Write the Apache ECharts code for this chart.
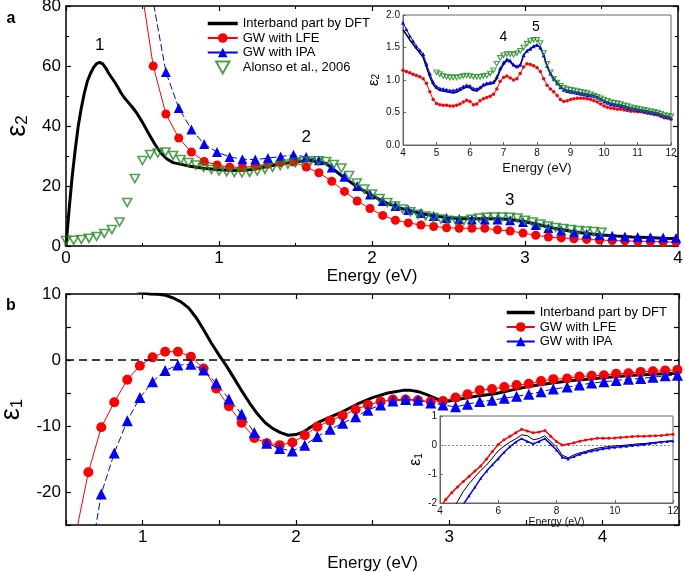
<!DOCTYPE html>
<html><head><meta charset="utf-8">
<script src="https://cdn.jsdelivr.net/npm/echarts@6/dist/echarts.min.js"></script>
<style>html,body{margin:0;padding:0;background:#fff}#c{width:685px;height:572px}</style>
</head><body><div id="c"></div>
<script>
// ---------------- DATA ----------------
// Panel a: epsilon_2 (0-4 eV)
const dftA_E = [0,0.02,0.04,0.06,0.08,0.10,0.12,0.14,0.16,0.18,0.20,0.22,0.24,0.26,0.28,0.30,0.32,0.34,0.36,0.38,0.40,0.43,0.46,0.50,0.54,0.58,0.62,0.66,0.70,0.80,0.90,1.00,1.10,1.20,1.30,1.40,1.50,1.60,1.70,1.80,1.90,2.00,2.10,2.20,2.30,2.40,2.50,2.60,2.70,2.80,2.90,3.00,3.10,3.20,3.30,3.40,3.50,3.60,3.70,3.80,3.90,4.00];
const dftA = [0,12,23,32,40,46,51,55,57.5,59.5,60.8,61.2,60.7,59.3,57.5,56,54.5,52.8,51,49.5,48.3,46.5,44.5,41.2,37.5,34,31,29,27.8,26.7,25.9,25.4,25.2,25.4,26.3,27.3,28.1,28.5,27.5,23.5,19.8,16.8,14.2,12.4,11.1,10.1,9.4,9.1,9.1,9.1,8.9,8.1,7.0,5.8,4.9,4.2,3.7,3.3,3.0,2.8,2.6,2.5];
// first point of each GW curve: where the line enters from above (no marker)
const lfeA_E = [0.49,0.570,0.653,0.737,0.820,0.903,0.987,1.070,1.153,1.237,1.320,1.403,1.487,1.570,1.653,1.737,1.820,1.903,1.987,2.070,2.153,2.237,2.320,2.403,2.487,2.570,2.653,2.737,2.820,2.903,2.987,3.070,3.153,3.237,3.320,3.403,3.487,3.570,3.653,3.737,3.820,3.903,3.987];
const lfeA = [87,60,44,36,31.3,28.2,27,26.3,26.2,26.6,27.3,27.8,28,26.3,24.4,21.6,18.2,15,12.5,10.2,8.6,7.7,7.0,6.5,6.1,5.9,5.9,5.9,5.4,5.0,4.3,3.6,3.0,2.7,2.4,2.2,2.0,1.8,1.7,1.6,1.5,1.4,1.3];
const ipaA_E = [0.55,0.653,0.737,0.820,0.903,0.987,1.070,1.153,1.237,1.320,1.403,1.487,1.570,1.653,1.737,1.820,1.903,1.987,2.070,2.153,2.237,2.320,2.403,2.487,2.570,2.653,2.737,2.820,2.903,2.987,3.070,3.153,3.237,3.320,3.403,3.487,3.570,3.653,3.737,3.820,3.903,3.987];
const ipaA = [87,58,46,38.8,34,31.3,29.7,28.9,28.8,29.3,29.8,30.4,29.7,28.6,26.2,23.1,20.0,17.2,15.0,13.3,12.0,11.0,10.0,9.3,9.0,8.8,8.8,8.8,8.6,8.0,7.0,6.0,5.2,4.6,4.1,3.7,3.4,3.2,3.0,2.9,2.8,2.7];
const alonso_E = [0.00,0.05,0.10,0.15,0.20,0.25,0.30,0.35,0.40,0.45,0.50,0.55,0.60,0.65,0.70,0.75,0.80,0.85,0.90,0.95,1.00,1.05,1.10,1.15,1.20,1.25,1.30,1.35,1.40,1.45,1.50,1.55,1.60,1.65,1.70,1.75,1.80,1.85,1.90,1.95,2.00,2.05,2.10,2.15,2.20,2.25,2.30,2.35,2.40,2.45,2.50,2.55,2.60,2.65,2.70,2.75,2.80,2.85,2.90,2.95,3.00,3.05,3.10,3.15,3.20,3.25,3.30,3.35,3.40,3.45,3.50];
const alonso = [1.8,1.9,2.2,2.6,3.2,4.2,5.5,8.0,14.5,22.5,28.5,30.5,31.0,31.3,30.2,28.8,27.8,27.0,26.2,25.5,25.0,24.7,24.5,24.4,24.6,25.0,25.6,26.2,26.8,27.3,27.8,28.2,28.4,28.4,28.2,27.2,26.0,23.5,21.0,19.0,17.3,15.8,14.5,13.3,12.3,11.4,10.6,10.0,9.5,9.0,8.6,8.3,8.4,8.9,9.3,9.6,9.7,9.7,9.6,9.3,8.6,8.0,7.3,6.7,6.2,5.8,5.5,5.2,5.0,4.8,4.6];

// Panel a inset: epsilon_2 (4-12 eV)
const inA_E = [4.0,4.1,4.2,4.3,4.4,4.5,4.6,4.7,4.8,4.9,5.0,5.1,5.2,5.3,5.4,5.5,5.6,5.7,5.8,5.9,6.0,6.1,6.2,6.3,6.4,6.5,6.6,6.7,6.8,6.9,7.0,7.1,7.2,7.3,7.4,7.5,7.6,7.7,7.8,7.9,8.0,8.1,8.2,8.3,8.4,8.5,8.6,8.7,8.8,8.9,9.0,9.1,9.2,9.3,9.4,9.5,9.6,9.7,9.8,9.9,10.0,10.1,10.2,10.3,10.4,10.5,10.6,10.7,10.8,10.9,11.0,11.1,11.2,11.3,11.4,11.5,11.6,11.7,11.8,11.9,12.0];
const inA_dft = [1.77,1.70,1.62,1.55,1.48,1.42,1.35,1.20,1.05,0.93,0.87,0.84,0.83,0.82,0.81,0.80,0.81,0.84,0.87,0.89,0.88,0.84,0.83,0.87,0.91,0.93,0.94,0.95,1.02,1.15,1.24,1.30,1.28,1.22,1.19,1.22,1.38,1.45,1.48,1.52,1.54,1.50,1.38,1.22,1.10,1.02,0.96,0.90,0.86,0.84,0.83,0.82,0.81,0.80,0.79,0.78,0.77,0.76,0.74,0.71,0.68,0.66,0.64,0.63,0.62,0.61,0.60,0.58,0.57,0.56,0.55,0.54,0.53,0.52,0.51,0.50,0.49,0.47,0.45,0.44,0.42];
const inA_ipa = [1.88,1.78,1.68,1.60,1.52,1.46,1.40,1.25,1.10,0.97,0.90,0.87,0.86,0.85,0.84,0.84,0.85,0.87,0.90,0.92,0.91,0.87,0.86,0.89,0.93,0.95,0.96,0.97,1.05,1.18,1.27,1.32,1.30,1.24,1.21,1.24,1.38,1.45,1.48,1.52,1.54,1.50,1.38,1.22,1.10,1.02,0.95,0.89,0.85,0.83,0.82,0.81,0.80,0.79,0.78,0.77,0.76,0.75,0.73,0.70,0.67,0.65,0.63,0.62,0.61,0.60,0.59,0.57,0.56,0.55,0.54,0.53,0.52,0.51,0.50,0.49,0.48,0.46,0.44,0.43,0.41];
const inA_lfe = [1.15,1.13,1.11,1.09,1.07,1.05,1.02,0.95,0.82,0.70,0.64,0.62,0.61,0.61,0.60,0.60,0.61,0.63,0.66,0.69,0.67,0.62,0.63,0.68,0.71,0.73,0.75,0.78,0.86,0.98,1.04,1.06,1.03,1.00,1.02,1.10,1.20,1.25,1.24,1.22,1.19,1.13,1.02,0.92,0.86,0.82,0.76,0.70,0.67,0.68,0.70,0.71,0.72,0.72,0.72,0.71,0.70,0.68,0.66,0.63,0.60,0.58,0.57,0.56,0.55,0.55,0.54,0.53,0.52,0.52,0.51,0.51,0.50,0.49,0.48,0.47,0.46,0.44,0.42,0.41,0.40];
const inA_alonso_E = [5.0,5.1,5.2,5.3,5.4,5.5,5.6,5.7,5.8,5.9,6.0,6.1,6.2,6.3,6.4,6.5,6.6,6.7,6.8,6.9,7.0,7.1,7.2,7.3,7.4,7.5,7.6,7.7,7.8,7.9,8.0,8.1,8.2,8.3,8.4,8.5,8.6,8.7,8.8,8.9,9.0,9.1,9.2,9.3,9.4,9.5,9.6,9.7,9.8,9.9,10.0,10.1,10.2,10.3,10.4,10.5,10.6,10.7,10.8,10.9,11.0,11.1,11.2,11.3,11.4,11.5,11.6,11.7,11.8,11.9,12.0];
const inA_alonso = [1.12,1.09,1.06,1.05,1.04,1.04,1.04,1.05,1.06,1.07,1.06,1.05,1.05,1.05,1.06,1.07,1.10,1.15,1.25,1.34,1.38,1.40,1.40,1.39,1.41,1.45,1.50,1.56,1.60,1.62,1.62,1.57,1.42,1.25,1.12,1.02,0.96,0.91,0.88,0.86,0.85,0.84,0.83,0.82,0.81,0.80,0.78,0.76,0.74,0.72,0.70,0.68,0.66,0.65,0.64,0.63,0.61,0.60,0.58,0.57,0.56,0.55,0.54,0.53,0.52,0.51,0.50,0.48,0.46,0.45,0.44];

// Panel b: epsilon_1 (0.5-4.5 eV)
const dftB_E = [0.95,1.00,1.05,1.10,1.15,1.20,1.25,1.30,1.35,1.40,1.45,1.50,1.55,1.60,1.65,1.70,1.75,1.80,1.85,1.90,1.95,2.00,2.05,2.10,2.15,2.20,2.30,2.40,2.50,2.60,2.70,2.75,2.80,2.85,2.90,2.95,3.00,3.10,3.20,3.30,3.40,3.50,3.60,3.70,3.80,3.90,4.00,4.10,4.20,4.30,4.40,4.50];
const dftB = [10.6,10.15,10.0,9.95,9.8,9.4,8.8,7.9,6.4,4.5,2.5,0.7,-1.0,-2.9,-4.8,-6.6,-8.2,-9.5,-10.4,-11.0,-11.4,-11.3,-10.9,-10.1,-9.4,-8.9,-7.9,-6.7,-5.7,-5.0,-4.6,-4.6,-4.8,-5.2,-5.7,-6.2,-6.2,-5.8,-5.4,-5.1,-4.6,-4.1,-3.7,-3.4,-3.1,-2.9,-2.7,-2.5,-2.3,-2.2,-2.1,-2.0];
const lfeB_E = [0.55,0.646,0.730,0.815,0.900,0.982,1.065,1.147,1.230,1.315,1.398,1.480,1.563,1.646,1.729,1.810,1.894,1.977,2.058,2.140,2.223,2.305,2.390,2.470,2.553,2.633,2.716,2.797,2.880,2.960,3.042,3.120,3.200,3.280,3.360,3.440,3.520,3.600,3.680,3.770,3.850,3.930,4.010,4.090,4.170,4.250,4.330,4.410,4.490];
const lfeB = [-28,-17.0,-10.2,-6.4,-3.0,-0.86,0.4,1.26,1.26,0.5,-1.3,-4.3,-7.0,-9.5,-11.8,-12.6,-12.9,-12.5,-11.4,-10.1,-9.2,-8.4,-7.5,-6.8,-6.3,-6.0,-6.0,-6.1,-6.3,-6.2,-5.7,-5.2,-4.6,-4.4,-4.1,-3.8,-3.6,-3.2,-2.9,-2.8,-2.5,-2.4,-2.3,-2.1,-2.0,-1.8,-1.7,-1.6,-1.5];
const ipaB_E = [0.68,0.730,0.815,0.900,0.982,1.065,1.147,1.230,1.315,1.398,1.480,1.563,1.646,1.729,1.810,1.894,1.977,2.058,2.140,2.223,2.305,2.390,2.470,2.553,2.633,2.716,2.797,2.880,2.960,3.042,3.120,3.200,3.280,3.360,3.440,3.520,3.600,3.680,3.770,3.850,3.930,4.010,4.090,4.170,4.250,4.330,4.410,4.490];
const ipaB = [-27.2,-20.3,-14.1,-9.2,-5.7,-3.3,-1.6,-0.76,-0.66,-1.5,-3.5,-5.9,-8.2,-11.0,-12.6,-13.4,-13.8,-12.9,-11.6,-10.5,-9.6,-8.6,-7.6,-6.8,-6.2,-6.0,-6.1,-6.5,-6.8,-7.1,-6.7,-6.3,-6.1,-5.8,-5.5,-5.2,-4.8,-4.4,-4.1,-3.8,-3.5,-3.3,-3.1,-2.9,-2.8,-2.6,-2.4,-2.3];

// Panel b inset: epsilon_1 (4-12 eV)
const inB_E = [4.0,4.2,4.4,4.6,4.8,5.0,5.2,5.4,5.6,5.8,6.0,6.2,6.4,6.6,6.8,7.0,7.2,7.4,7.6,7.8,8.0,8.2,8.4,8.6,8.8,9.0,9.2,9.4,9.6,9.8,10.0,10.2,10.4,10.6,10.8,11.0,11.2,11.4,11.6,11.8,12.0];
const inB_dft = [-2.9,-2.55,-2.25,-1.95,-1.60,-1.33,-1.10,-0.88,-0.69,-0.45,-0.20,-0.04,0.10,0.21,0.35,0.32,0.18,0.22,0.32,0.12,-0.06,-0.35,-0.44,-0.34,-0.27,-0.22,-0.16,-0.11,-0.08,-0.05,-0.03,-0.02,0.00,0.02,0.04,0.05,0.07,0.09,0.11,0.13,0.15];
const inB_lfe = [-2.15,-1.88,-1.65,-1.45,-1.26,-1.08,-0.90,-0.72,-0.48,-0.22,0.02,0.18,0.30,0.42,0.54,0.48,0.42,0.45,0.50,0.30,0.12,0.00,0.03,0.08,0.13,0.17,0.20,0.23,0.23,0.23,0.24,0.26,0.28,0.29,0.30,0.30,0.31,0.32,0.33,0.35,0.37];
const inB_ipa = [-3.3,-3.0,-2.65,-2.35,-2.05,-1.75,-1.45,-1.15,-0.90,-0.68,-0.47,-0.25,-0.06,0.10,0.22,0.12,0.04,0.12,0.22,0.03,-0.17,-0.42,-0.48,-0.40,-0.32,-0.26,-0.21,-0.17,-0.13,-0.10,-0.08,-0.06,-0.04,-0.02,0.00,0.02,0.05,0.08,0.10,0.12,0.14];

const legendA = ['Interband part by DFT','GW with LFE','GW with IPA','Alonso et al., 2006'];
const legendB = ['Interband part by DFT','GW with LFE','GW with IPA'];

// ---------------- CHART ----------------
const FONT = '"Liberation Sans", Arial, Helvetica, sans-serif';
const RED = '#ff0000', BLUE = '#0000ff', GREEN = '#1e8c1e', BLACK = '#000';
const DOWN_TRI = 'path://M0,0L10,0L5,9Z';

function pts(E, V, leadHidden) {
  return E.map((e, i) => (leadHidden && i === 0) ? {value: [e, V[i]], symbol: 'none'} : [e, V[i]]);
}

function mainAxis(dim, grid, min, max, interval, pos, showLabels, fmt, extra) {
  const a = {
    gridIndex: grid, type: 'value', min: min, max: max, interval: interval, position: pos,
    axisLine: {show: true, onZero: false, lineStyle: {color: BLACK, width: 1.5}},
    axisTick: {show: true, inside: true, length: 5, lineStyle: {color: BLACK, width: 1.2}},
    splitLine: {show: false},
    axisLabel: {show: showLabels, color: BLACK, fontSize: 17, fontFamily: FONT, margin: dim === 'x' ? 4 : 5, formatter: fmt}
  };
  return Object.assign(a, extra || {});
}
function insetAxis(grid, min, max, interval, fmt, fs, extra) {
  const a = {
    gridIndex: grid, type: 'value', min: min, max: max, interval: interval,
    axisLine: {show: true, onZero: false, lineStyle: {color: '#666', width: 1}},
    axisTick: {show: true, inside: true, length: 3, lineStyle: {color: '#666', width: 1}},
    splitLine: {show: false},
    axisLabel: {show: true, color: '#111', fontSize: fs, fontFamily: FONT, margin: 3, formatter: fmt}
  };
  return Object.assign(a, extra || {});
}
const epsName = (sub, big, small, pad) => ({
  name: '{e|ε}{s|' + sub + '}',
  nameLocation: 'middle',
  nameRotate: 90,
  nameTextStyle: {rich: {
    e: {fontSize: big, fontFamily: FONT, color: BLACK},
    s: {fontSize: small, fontFamily: FONT, color: BLACK, verticalAlign: 'bottom', padding: [pad, 0, 0, 0]}
  }}
});
const fmt10 = v => (Math.abs(v % 10) < 1e-9 ? String(v) : '');
const fmtInt = v => (Math.abs(v - Math.round(v)) < 1e-9 ? String(Math.round(v)) : '');
const minorA = {show: true, splitNumber: 2, length: 3, lineStyle: {color: BLACK, width: 1}};

const xAxis = [
  mainAxis('x', 0, 0, 4, 1, 'bottom', true, null, {minorTick: minorA, name: 'Energy (eV)', nameLocation: 'middle', nameGap: 18, nameTextStyle: {fontSize: 17, fontFamily: FONT, color: BLACK}}),
  mainAxis('x', 0, 0, 4, 1, 'top', false, null, {minorTick: minorA}),
  mainAxis('x', 1, 0.5, 4.5, 0.5, 'bottom', true, fmtInt, {name: 'Energy (eV)', nameLocation: 'middle', nameGap: 30, nameTextStyle: {fontSize: 17, fontFamily: FONT, color: BLACK}}),
  mainAxis('x', 1, 0.5, 4.5, 0.5, 'top', false, fmtInt),
  insetAxis(2, 4, 12, 1, null, 10, {name: 'Energy (eV)', nameLocation: 'middle', nameGap: 17, nameTextStyle: {fontSize: 13, fontFamily: FONT, color: '#111'}}),
  insetAxis(3, 4, 12, 2, null, 10, {name: 'Energy (eV)', nameLocation: 'middle', nameGap: 11, nameTextStyle: {fontSize: 10.5, fontFamily: FONT, color: '#111'}})
];
const yAxis = [
  mainAxis('y', 0, 0, 80, 20, 'left', true, null, Object.assign({minorTick: minorA, nameGap: 31}, epsName('2', 27, 17, 10))),
  mainAxis('y', 0, 0, 80, 20, 'right', false, null, {minorTick: minorA}),
  mainAxis('y', 1, -25, 10, 5, 'left', true, fmt10, Object.assign({nameGap: 36}, epsName('1', 27, 17, 10))),
  mainAxis('y', 1, -25, 10, 5, 'right', false, fmt10),
  insetAxis(2, 0, 2, 0.5, v => v.toFixed(1), 10, Object.assign({nameGap: 22}, epsName('2', 15, 10, 5))),
  insetAxis(3, -2, 1, 1, null, 10, Object.assign({nameGap: 16}, epsName('1', 16, 10, 6)))
];

function annot(list, fs) {
  return {
    silent: true, symbol: 'circle', symbolSize: 1, itemStyle: {color: 'rgba(0,0,0,0)'},
    label: {show: true, position: 'inside', color: BLACK, fontSize: fs, fontFamily: FONT, formatter: p => p.name},
    data: list.map(a => ({name: a[0], coord: [a[1], a[2]]}))
  };
}

const series = [
  // ----- panel a -----
  {name: 'Interband part by DFT', type: 'line', xAxisIndex: 0, yAxisIndex: 0, data: pts(dftA_E, dftA), symbol: 'none',
   lineStyle: {color: BLACK, width: 3}, itemStyle: {color: BLACK}, z: 2,
   markPoint: annot([['1', 0.22, 67], ['2', 1.57, 36.3], ['3', 2.90, 15.3]], 17)},
  {name: 'GW with LFE', type: 'line', xAxisIndex: 0, yAxisIndex: 0, data: pts(lfeA_E, lfeA, true), symbol: 'circle', symbolSize: 9,
   lineStyle: {color: RED, width: 1}, itemStyle: {color: RED}, z: 3},
  {name: 'GW with IPA', type: 'line', xAxisIndex: 0, yAxisIndex: 0, data: pts(ipaA_E, ipaA, true), symbol: 'triangle', symbolSize: 10,
   lineStyle: {color: BLUE, width: 1, type: [7, 3]}, itemStyle: {color: BLUE}, z: 4},
  {name: 'Alonso et al., 2006', type: 'scatter', xAxisIndex: 0, yAxisIndex: 0, data: pts(alonso_E, alonso), symbol: DOWN_TRI, symbolSize: [9, 8],
   itemStyle: {color: 'rgba(0,0,0,0)', borderColor: GREEN, borderWidth: 1.6}, z: 5},
  // ----- panel b -----
  {name: 'Interband part by DFT', type: 'line', xAxisIndex: 2, yAxisIndex: 2, data: pts(dftB_E, dftB), symbol: 'none',
   lineStyle: {color: BLACK, width: 3}, itemStyle: {color: BLACK}, z: 2,
   markLine: {silent: true, symbol: 'none', label: {show: false}, lineStyle: {color: BLACK, width: 1.5, type: [8, 5]}, data: [{yAxis: 0}]}},
  {name: 'GW with LFE', type: 'line', xAxisIndex: 2, yAxisIndex: 2, data: pts(lfeB_E, lfeB, true), symbol: 'circle', symbolSize: 10,
   lineStyle: {color: RED, width: 1}, itemStyle: {color: RED}, z: 3},
  {name: 'GW with IPA', type: 'line', xAxisIndex: 2, yAxisIndex: 2, data: pts(ipaB_E, ipaB, true), symbol: 'triangle', symbolSize: 11,
   lineStyle: {color: BLUE, width: 1, type: [7, 3]}, itemStyle: {color: BLUE}, z: 4},
  // ----- inset a -----
  {name: 'insetA DFT', type: 'line', xAxisIndex: 4, yAxisIndex: 4, data: pts(inA_E, inA_dft), symbol: 'none',
   lineStyle: {color: BLACK, width: 1.5}, z: 6,
   markPoint: annot([['4', 7.0, 1.66], ['5', 7.97, 1.82]], 14)},
  {name: 'insetA LFE', type: 'line', xAxisIndex: 4, yAxisIndex: 4, data: pts(inA_E, inA_lfe), symbol: 'circle', symbolSize: 3.5,
   showAllSymbol: true, lineStyle: {color: RED, width: 1}, itemStyle: {color: RED}, z: 6},
  {name: 'insetA IPA', type: 'line', xAxisIndex: 4, yAxisIndex: 4, data: pts(inA_E, inA_ipa), symbol: 'triangle', symbolSize: 4,
   showAllSymbol: true, lineStyle: {color: BLUE, width: 1}, itemStyle: {color: BLUE}, z: 7},
  {name: 'insetA Alonso', type: 'scatter', xAxisIndex: 4, yAxisIndex: 4, data: pts(inA_alonso_E, inA_alonso), symbol: DOWN_TRI, symbolSize: [5, 4.5],
   itemStyle: {color: 'rgba(0,0,0,0)', borderColor: GREEN, borderWidth: 1.2}, z: 8},
  // ----- inset b -----
  {name: 'insetB DFT', type: 'line', xAxisIndex: 5, yAxisIndex: 5, data: pts(inB_E, inB_dft), symbol: 'none',
   lineStyle: {color: BLACK, width: 1}, z: 6,
   markLine: {silent: true, symbol: 'none', label: {show: false}, lineStyle: {color: '#888', width: 1, type: [2, 2]}, data: [{yAxis: 0}]}},
  {name: 'insetB LFE', type: 'line', xAxisIndex: 5, yAxisIndex: 5, data: pts(inB_E, inB_lfe), symbol: 'circle', symbolSize: 3,
   showAllSymbol: true, lineStyle: {color: RED, width: 1.5}, itemStyle: {color: RED}, z: 6},
  {name: 'insetB IPA', type: 'line', xAxisIndex: 5, yAxisIndex: 5, data: pts(inB_E, inB_ipa), symbol: 'triangle', symbolSize: 3,
   showAllSymbol: true, lineStyle: {color: BLUE, width: 1.5}, itemStyle: {color: BLUE}, z: 7}
];

function legendData(names) {
  return names.map(n => {
    if (n === 'Interband part by DFT') return {name: n, itemStyle: {opacity: 0}, lineStyle: {width: 3.5, color: BLACK}};
    if (n === 'Alonso et al., 2006') return {name: n, icon: DOWN_TRI};
    return {name: n, lineStyle: {type: 'solid'}};
  });
}

const option = {
  animation: false,
  backgroundColor: '#fff',
  textStyle: {fontFamily: FONT},
  grid: [
    {left: 66, top: 6, width: 612, height: 240, outerBoundsMode: 'none', containLabel: false},
    {left: 66, top: 294, width: 613, height: 231, outerBoundsMode: 'none', containLabel: false},
    {left: 403, top: 15, width: 268, height: 130, outerBoundsMode: 'none', containLabel: false, show: true, borderColor: '#666', borderWidth: 1, backgroundColor: 'rgba(0,0,0,0)'},
    {left: 440, top: 416, width: 233, height: 87, outerBoundsMode: 'none', containLabel: false, show: true, borderColor: '#666', borderWidth: 1, backgroundColor: 'rgba(0,0,0,0)'}
  ],
  xAxis: xAxis,
  yAxis: yAxis,
  legend: [
    {data: legendData(legendA), orient: 'vertical', left: 206, top: 17, itemWidth: 30, itemHeight: 12, itemGap: 1.5, padding: 0,
     selectedMode: false, textStyle: {fontSize: 13, fontFamily: FONT, color: BLACK}},
    {data: legendData(legendB), orient: 'vertical', left: 505, top: 306, itemWidth: 28, itemHeight: 12, itemGap: 1.5, padding: 0,
     selectedMode: false, textStyle: {fontSize: 13, fontFamily: FONT, color: BLACK}}
  ],
  graphic: [
    {type: 'text', x: 11, y: 19, style: {text: 'a', fontSize: 16, fontWeight: 'bold', fontFamily: FONT, fill: BLACK, align: 'center', verticalAlign: 'middle'}},
    {type: 'text', x: 11, y: 306, style: {text: 'b', fontSize: 16, fontWeight: 'bold', fontFamily: FONT, fill: BLACK, align: 'center', verticalAlign: 'middle'}}
  ],
  series: series
};

const chart = echarts.init(document.getElementById('c'), null, {renderer: 'canvas'});
chart.setOption(option);
</script></body></html>
